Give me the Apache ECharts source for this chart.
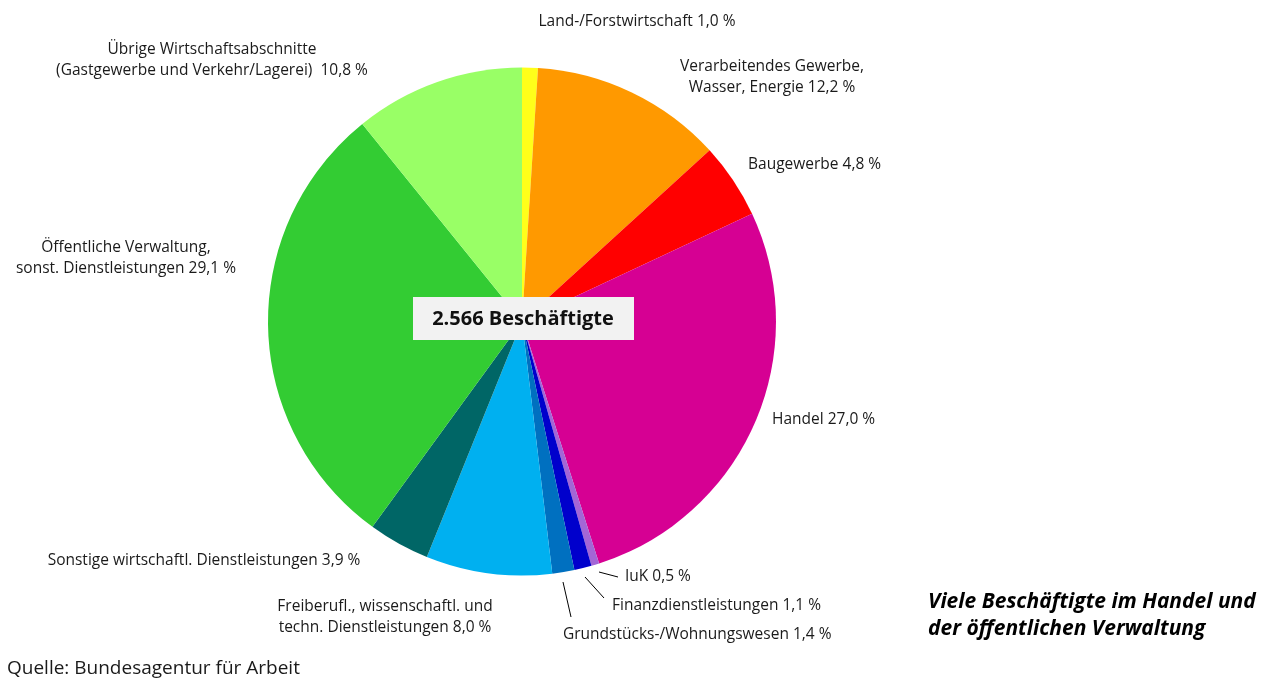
<!DOCTYPE html>
<html>
<head>
<meta charset="utf-8">
<script src="https://cdn.jsdelivr.net/npm/echarts@6/dist/echarts.min.js"></script>
<style>
  html, body { margin: 0; padding: 0; background: #fff; }
  #chart { width: 1269px; height: 681px; }
</style>
</head>
<body>
<div id="chart"></div>
<script>
// Branchen (Anteil der Beschäftigten in %)
const categories = [
  "Land-/Forstwirtschaft",
  "Verarbeitendes Gewerbe,\nWasser, Energie",
  "Baugewerbe",
  "Handel",
  "IuK",
  "Finanzdienstleistungen",
  "Grundstücks-/Wohnungswesen",
  "Freiberufl., wissenschaftl. und\ntechn. Dienstleistungen",
  "Sonstige wirtschaftl. Dienstleistungen",
  "Öffentliche Verwaltung,\nsonst. Dienstleistungen",
  "Übrige Wirtschaftsabschnitte\n(Gastgewerbe und Verkehr/Lagerei) "
];
const shares = [1.0, 12.2, 4.8, 27.0, 0.5, 1.1, 1.4, 8.0, 3.9, 29.1, 10.8];
const colors = ["#ffff1a", "#ff9900", "#ff0000", "#d60093", "#a366d6", "#0000cc",
                "#0070c0", "#00b0f0", "#006666", "#33cc33", "#99ff66"];
const totalLabel = "2.566 Beschäftigte";

// Label-Positionen [x, y, align]
const labelPos = [
  [637, 22, "center"],
  [772, 77, "center"],
  [748, 165, "left"],
  [772, 420, "left"],
  [625, 577, "left"],
  [612, 606, "left"],
  [563, 635, "left"],
  [385, 617, "center"],
  [204, 561, "center"],
  [126, 258, "center"],
  [212, 60, "center"]
];
// Hinweislinien für kleine Segmente
const linePts = {
  4: [[599, 572], [618, 577]],
  5: [[585, 577], [604, 598]],
  6: [[563, 582], [571, 617]]
};

const fmt = v => v.toFixed(1).replace(".", ",") + " %";

const chart = echarts.init(document.getElementById("chart"));
chart.setOption({
  animation: false,
  series: [{
    type: "pie",
    center: [522, 321.5],
    radius: 254,
    startAngle: 90,
    clockwise: true,
    avoidLabelOverlap: false,
    itemStyle: { borderWidth: 0 },
    emphasis: { disabled: true },
    data: categories.map((c, i) => ({
      name: c,
      value: shares[i],
      itemStyle: { color: colors[i] },
      labelLine: { show: !!linePts[i], lineStyle: { color: "#000", width: 1 } }
    })),
    label: {
      show: true,
      position: "outside",
      color: "#1a1a1a",
      fontFamily: "Open Sans",
      fontSize: 15.5,
      lineHeight: 21,
      formatter: p => {
        const lines = p.name.split("\n");
        lines[lines.length - 1] += " " + fmt(p.value);
        return lines.join("\n");
      }
    },
    labelLine: { length: 10, length2: 10 },
    labelLayout: p => {
      const lp = labelPos[p.dataIndex];
      const res = { x: lp[0], y: lp[1], align: lp[2], verticalAlign: "middle", moveOverlap: false };
      if (linePts[p.dataIndex]) res.labelLinePoints = linePts[p.dataIndex];
      return res;
    }
  }],
  graphic: [
    {
      type: "rect",
      shape: { x: 413, y: 297, width: 221, height: 43 },
      style: { fill: "#f2f2f2" },
      z: 100
    },
    {
      type: "text",
      x: 523, y: 319,
      style: {
        text: totalLabel, fill: "#111", font: "bold 20px 'Open Sans'",
        align: "center", verticalAlign: "middle"
      },
      z: 101
    },
    {
      type: "text",
      x: 928, y: 616,
      style: {
        text: "Viele Beschäftigte im Handel und\nder öffentlichen Verwaltung",
        fill: "#000", font: "italic bold 21px 'Open Sans'",
        lineHeight: 27, verticalAlign: "middle"
      }
    },
    {
      type: "text",
      x: 7, y: 669,
      style: {
        text: "Quelle: Bundesagentur für Arbeit",
        fill: "#1a1a1a", font: "19px 'Open Sans'", verticalAlign: "middle"
      }
    }
  ]
});
</script>
</body>
</html>
